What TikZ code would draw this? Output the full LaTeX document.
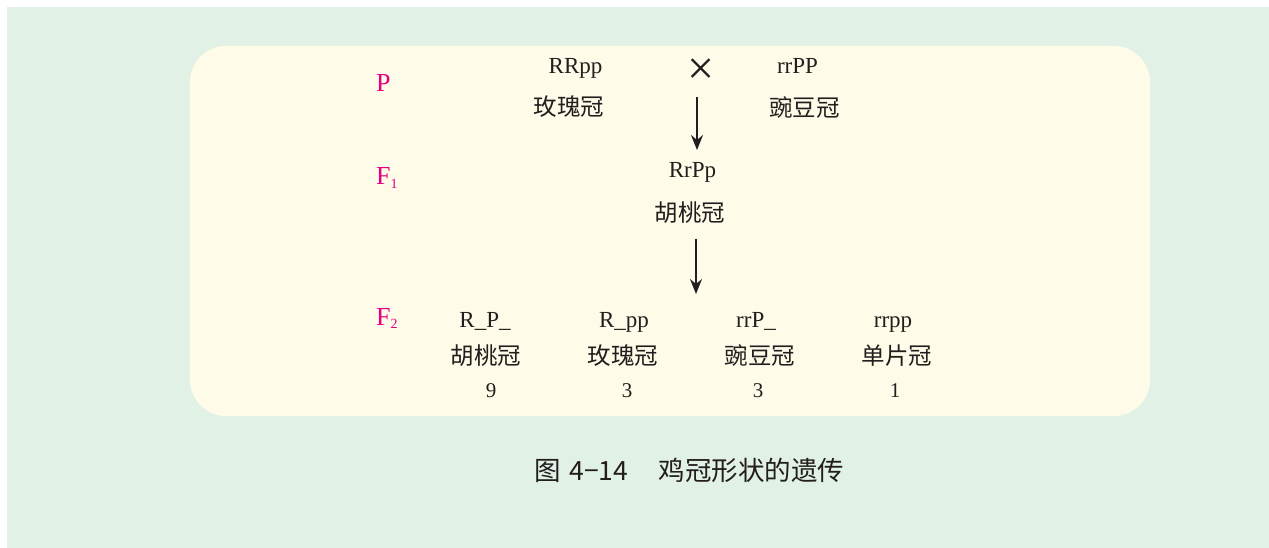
\documentclass[tikz,border=0pt]{standalone}
\usepackage{fontspec}
\setmainfont{Liberation Serif}
\newfontfamily\cjk{Noto Sans CJK SC}
\usetikzlibrary{arrows.meta}
\definecolor{bggreen}{RGB}{225,241,230}
\definecolor{panelyellow}{RGB}{254,251,233}
\definecolor{genmagenta}{RGB}{228,0,127}
\definecolor{ink}{RGB}{35,30,30}
\newcommand{\gensub}[1]{\raisebox{-0.3ex}{\fontsize{14}{14}\selectfont #1}}

\begin{document}
\begin{tikzpicture}[x=1pt,y=-1pt,>={Stealth[length=15pt,width=12pt,inset=5pt]},
  geno/.style={font=\fontsize{23}{23}\selectfont,text=ink,inner sep=0pt,anchor=base},
  pheno/.style={font=\cjk\fontsize{23.5}{23.5}\selectfont,text=ink,inner sep=0pt},
  gen/.style={font=\fontsize{26}{26}\selectfont,text=genmagenta,inner sep=0pt,anchor=base west},
  count/.style={font=\fontsize{21}{21}\selectfont,text=ink,inner sep=0pt,anchor=base},
  flow/.style={->,line width=1.8pt,draw=ink}]
\useasboundingbox (0,0) rectangle (1269,548);
\fill[white] (0,0) rectangle (1269,548);
\fill[bggreen] (7,7) rectangle (1269,548);
\fill[panelyellow,rounded corners=36pt] (190,46) rectangle (1150,416);
% generation labels
\node[gen] (labP) at (376,92) {P};
\node[gen] (labF1) at (376,185) {F\gensub{1}};
\node[gen] (labF2) at (376,325) {F\gensub{2}};
% parents
\node[geno] (rose) at (575.5,74) {RRpp};
\node[pheno] (roseN) at (569,107) {玫瑰冠};
\node[font=\fontsize{48}{48}\selectfont,text=ink,inner sep=0pt] (cross) at (700.8,72) {×};
\node[geno] (pea) at (797.5,74) {rrPP};
\node[pheno] (peaN) at (804.7,107) {豌豆冠};
% F1
\node[geno] (walnut) at (692.5,178) {RrPp};
\node[pheno] (walnutN) at (690,212.5) {胡桃冠};
% F2
\node[geno] (c1) at (485,327) {R\_P\_};
\node[geno] (c2) at (624,327) {R\_pp};
\node[geno] (c3) at (756,327) {rrP\_};
\node[geno] (c4) at (893,327) {rrpp};
\node[pheno] (c1N) at (486,355.5) {胡桃冠};
\node[pheno] (c2N) at (623,355.5) {玫瑰冠};
\node[pheno] (c3N) at (760,355.5) {豌豆冠};
\node[pheno] (c4N) at (897,355.5) {单片冠};
\node[count] (n1) at (491,397) {9};
\node[count] (n2) at (627,397) {3};
\node[count] (n3) at (758,397) {3};
\node[count] (n4) at (895,397) {1};
% arrows
\coordinate (a1s) at (697,97);
\coordinate (a1e) at (697,150);
\coordinate (a2s) at (696,239);
\coordinate (a2e) at (696,294);
\draw[flow] (a1s) -- (a1e);
\draw[flow] (a2s) -- (a2e);
% caption
\node[font=\cjk\fontsize{26.5}{26.5}\selectfont,text=ink,inner sep=0pt] (caption) at (689.5,470)
  {图\hspace{0.3em}4−14\hspace{1.15em}鸡冠形状的遗传};
\end{tikzpicture}
\end{document}
